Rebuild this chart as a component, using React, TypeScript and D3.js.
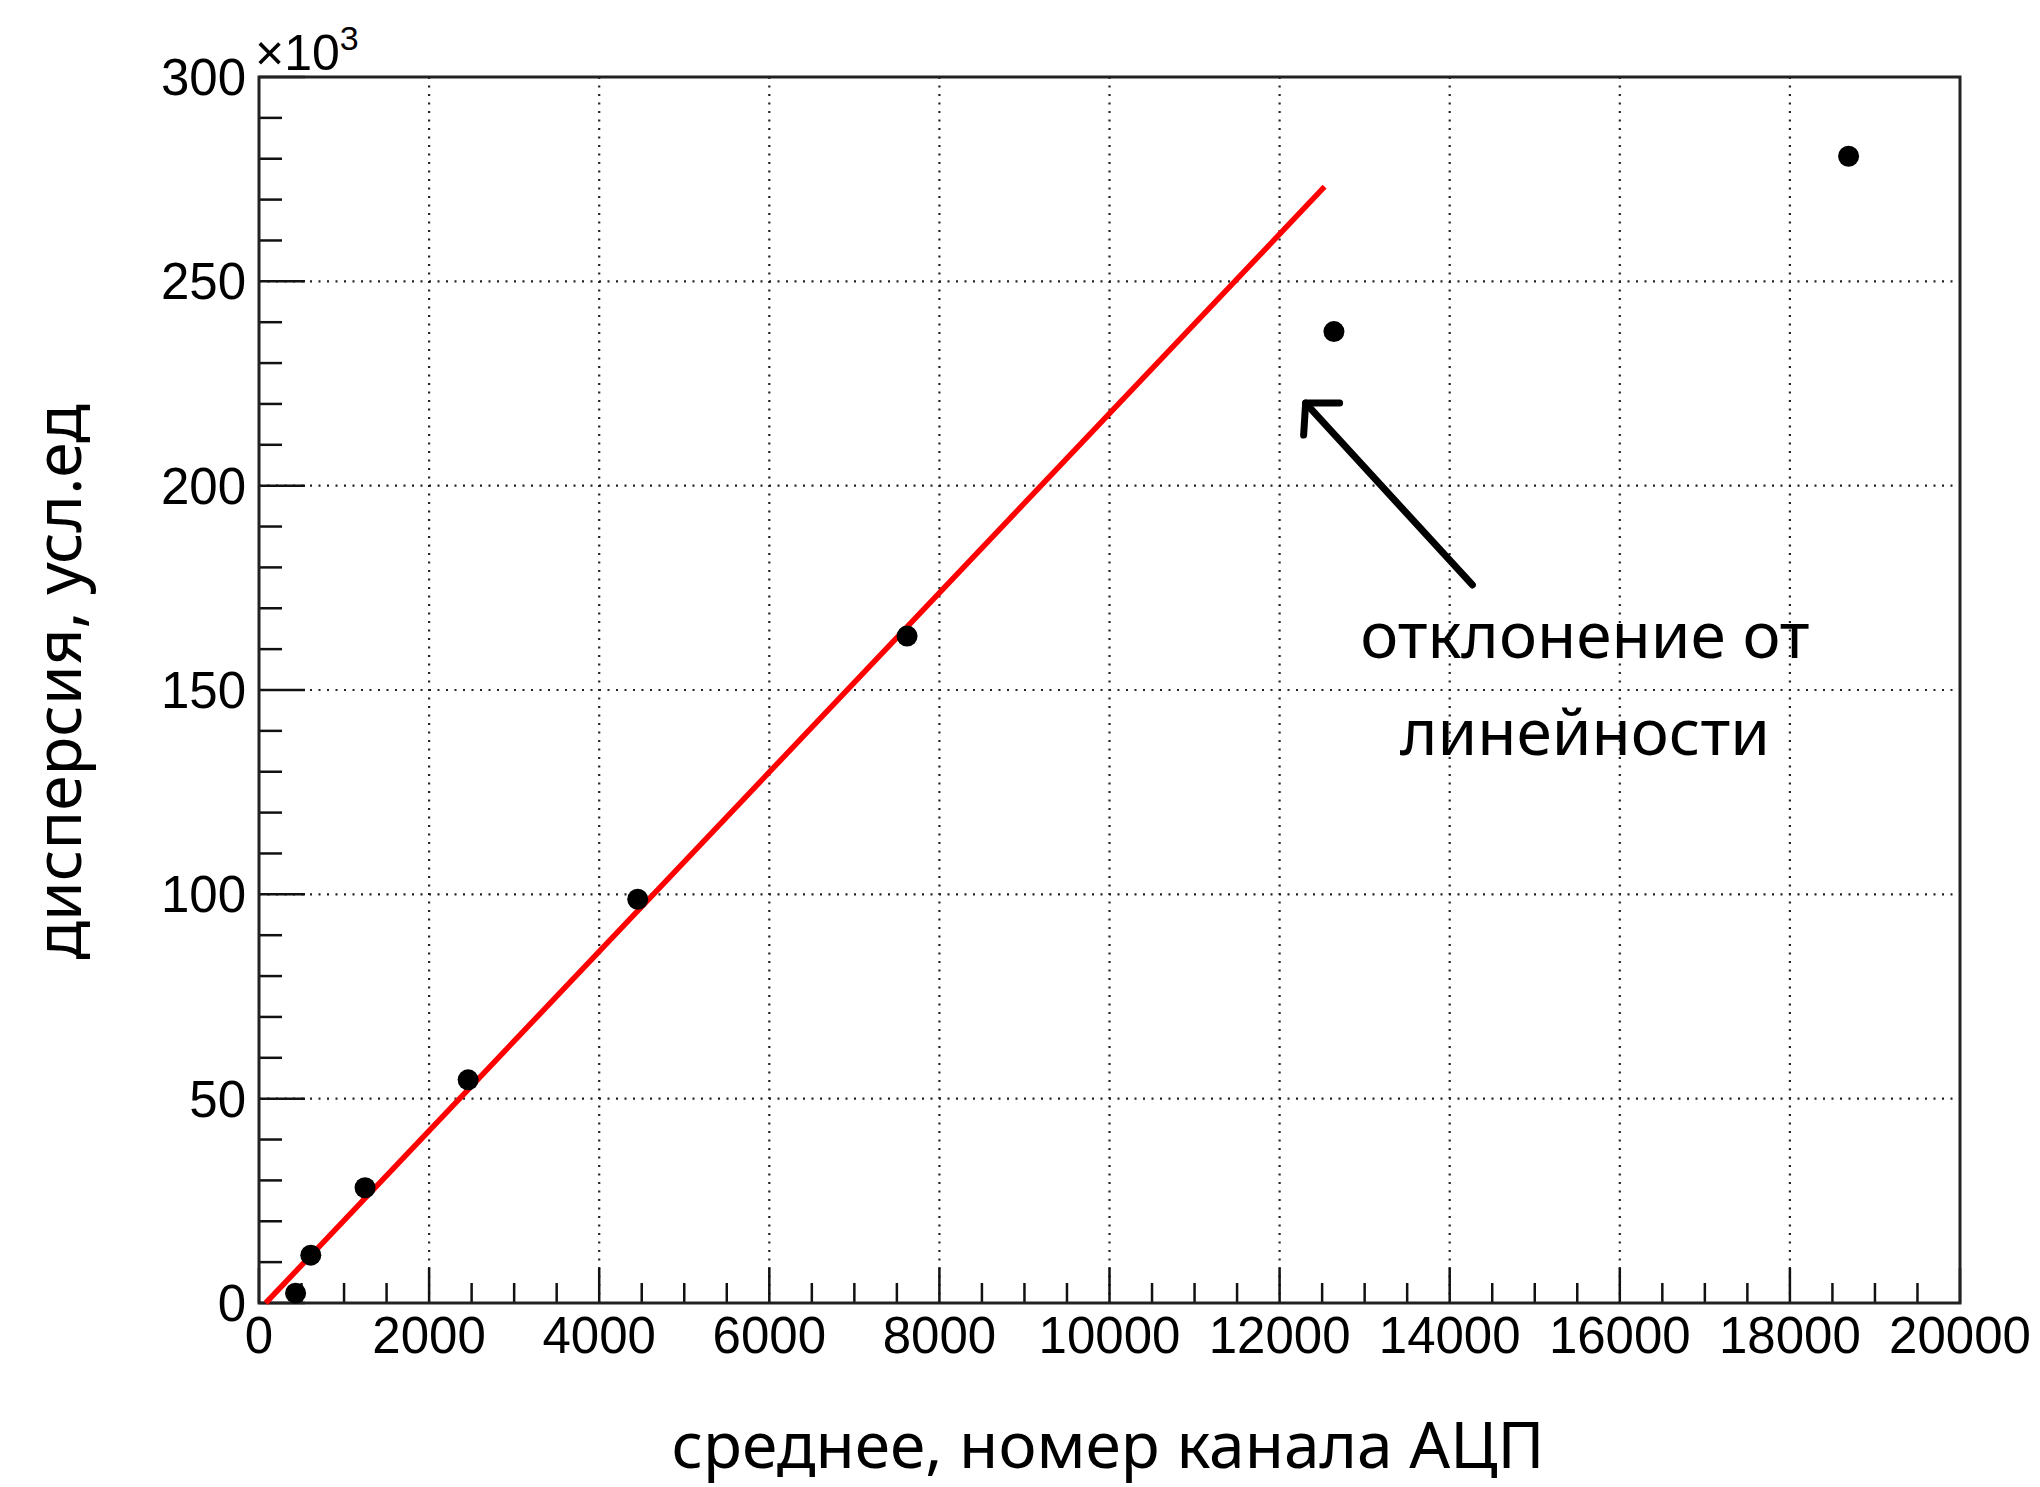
import React from 'react';
import * as d3 from 'd3';

// ---- data ----
const meanChannel = [430, 609, 1247, 2459, 4453, 7620, 12639, 18690];
const dispersionK = [2.4, 11.7, 28.2, 54.6, 98.8, 163.2, 237.7, 280.6]; // ×10^3

// linear fit: y = fitSlope * (x - fitX0)   (y in units of 10^3)
const fitSlope = 0.02194;
const fitX0 = 79;
const fitRange = [79, 12529];

const xTicks = [0, 2000, 4000, 6000, 8000, 10000, 12000, 14000, 16000, 18000, 20000];
const yTicks = [0, 50, 100, 150, 200, 250, 300];
const xMinorStep = 500;
const yMinorStep = 10;

const xTitle = 'среднее, номер канала АЦП';
const yTitle = 'дисперсия, усл.ед';
const annotationLines = ['отклонение от', 'линейности'];
const annotationAnchor = [15590, 157.8];
const arrowTail = [14267, 175.7];
const arrowTip = [12306, 220.2];

const W = 2040;
const H = 1487;
const M = { left: 259, right: 80, top: 77, bottom: 184 };

export default function App() {
  const x = d3.scaleLinear().domain([0, 20000]).range([M.left, W - M.right]);
  const y = d3.scaleLinear().domain([0, 300]).range([H - M.bottom, M.top]);
  const x0 = M.left, x1 = W - M.right, y0 = H - M.bottom, y1 = M.top;

  const xMinor = d3.range(0, 20000 + 1, xMinorStep).filter(v => v % 2000 !== 0);
  const yMinor = d3.range(0, 300 + 0.1, yMinorStep).filter(v => v % 50 !== 0);

  const tickFont = '"Liberation Sans", Arial, sans-serif';
  const titleFont = '"Noto Sans", "Open Sans", sans-serif';

  const fitLine = d3.line<number>()
    .x(v => x(v))
    .y(v => y(fitSlope * (v - fitX0)));

  const tx = x(arrowTip[0]), ty = y(arrowTip[1]);
  const sx = x(arrowTail[0]), sy = y(arrowTail[1]);

  return (
    <svg width={W} height={H} style={{ position: 'absolute', left: 0, top: 0, background: '#fff' }}>
      <rect x={0} y={0} width={W} height={H} fill="#fff" />
      {/* grid */}
      {xTicks.filter(v => v > 0 && v < 20000).map(v => (
        <line key={'gx' + v} x1={x(v)} x2={x(v)} y1={y0} y2={y1} stroke="#222" strokeWidth={2.2} strokeDasharray="2 6.5" />
      ))}
      {yTicks.filter(v => v > 0 && v < 300).map(v => (
        <line key={'gy' + v} x1={x0} x2={x1} y1={y(v)} y2={y(v)} stroke="#222" strokeWidth={2.2} strokeDasharray="2 6.5" />
      ))}
      {/* ticks */}
      {xTicks.map(v => (
        <line key={'tx' + v} x1={x(v)} x2={x(v)} y1={y0} y2={y0 - 35} stroke="#111" strokeWidth={2.5} />
      ))}
      {xMinor.map(v => (
        <line key={'mx' + v} x1={x(v)} x2={x(v)} y1={y0} y2={y0 - 20} stroke="#111" strokeWidth={2.5} />
      ))}
      {yTicks.map(v => (
        <line key={'ty' + v} x1={x0} x2={x0 + 46} y1={y(v)} y2={y(v)} stroke="#111" strokeWidth={2.5} />
      ))}
      {yMinor.map(v => (
        <line key={'my' + v} x1={x0} x2={x0 + 23} y1={y(v)} y2={y(v)} stroke="#111" strokeWidth={2.5} />
      ))}
      {/* frame */}
      <rect x={x0} y={y1} width={x1 - x0} height={y0 - y1} fill="none" stroke="#222" strokeWidth={3} />
      {/* tick labels */}
      {xTicks.map(v => (
        <text key={'lx' + v} x={x(v)} y={y0 + 50} textAnchor="middle" fontFamily={tickFont} fontSize={51} fill="#000">{v}</text>
      ))}
      {yTicks.map(v => (
        <text key={'ly' + v} x={x0 - 13} y={y(v) + 18} textAnchor="end" fontFamily={tickFont} fontSize={51} fill="#000">{v}</text>
      ))}
      <text x={x0 - 4} y={y1 - 7} fontFamily={tickFont} fontSize={50} fill="#000">
        ×10<tspan dy={-20} fontSize={34}>3</tspan>
      </text>
      {/* fit line */}
      <path d={fitLine(fitRange) || ''} stroke="#ff0000" strokeWidth={5.5} fill="none" />
      {/* points */}
      {meanChannel.map((v, i) => (
        <circle key={'p' + i} cx={x(v)} cy={y(dispersionK[i])} r={10.5} fill="#000" />
      ))}
      {/* arrow */}
      <line x1={sx} y1={sy} x2={tx} y2={ty} stroke="#000" strokeWidth={7} strokeLinecap="round" />
      <polyline points={`${tx + 34},${ty} ${tx},${ty} ${tx - 2},${ty + 32}`} fill="none" stroke="#000" strokeWidth={7} strokeLinecap="round" strokeLinejoin="round" />
      {/* annotation */}
      {annotationLines.map((t, i) => (
        <text key={'a' + i} x={x(annotationAnchor[0])} y={y(annotationAnchor[1]) + i * 97} textAnchor="middle" fontFamily={titleFont} fontSize={64} fill="#000">{t}</text>
      ))}
      {/* axis titles */}
      <text x={1108} y={1468} textAnchor="middle" fontFamily={titleFont} fontSize={64} fill="#000">{xTitle}</text>
      <text transform={`translate(81, 682) rotate(-90)`} textAnchor="middle" fontFamily={titleFont} fontSize={64} fill="#000">{yTitle}</text>
    </svg>
  );
}
